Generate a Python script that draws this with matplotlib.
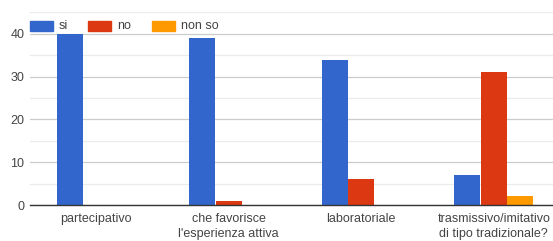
import matplotlib.pyplot as plt
import matplotlib.patches as mpatches
import numpy as np

plt.rcParams['font.family'] = ['Liberation Sans', 'DejaVu Sans']

# Data
categories = ["partecipativo", "che favorisce\nl'esperienza attiva",
              "laboratoriale", "trasmissivo/imitativo\ndi tipo tradizionale?"]
series_names = ["si", "no", "non so"]
si = [40, 39, 34, 7]
no = [0, 1, 6, 31]
non_so = [0, 0, 0, 2]

COLORS = ["#3366cc", "#dc3912", "#ff9900"]
TEXT = "#444444"

fig = plt.figure(figsize=(5.53, 2.41), dpi=100)
fig.patch.set_facecolor('white')
W, H = 553, 241
# right edge deliberately past the figure (chart is cropped in the reference)
ax = fig.add_axes([30 / W, 36 / H, 530 / W, (205 - 12.5) / H])

x = np.arange(len(categories))
width = 0.2
for i, (vals, name) in enumerate(zip([si, no, non_so], series_names)):
    ax.bar(x + (i - 1) * width, vals, width * 0.97, color=COLORS[i], zorder=3, label=name)

ax.set_xlim(-0.5, len(categories) - 0.5)
ax.set_ylim(0, 45)
ax.set_yticks([0, 10, 20, 30, 40])
ax.set_yticks([5, 15, 25, 35, 45], minor=True)
ax.grid(True, axis='y', which='major', color='#cccccc', linewidth=0.9, zorder=0)
ax.grid(True, axis='y', which='minor', color='#ebebeb', linewidth=0.9, zorder=0)
ax.tick_params(axis='y', which='both', length=0, pad=4, labelsize=9, labelcolor=TEXT)
ax.tick_params(axis='x', length=0, pad=6, labelsize=9, labelcolor=TEXT)
ax.set_xticks(x)
ax.set_xticklabels(categories, linespacing=1.3)
for s in ['top', 'right', 'left']:
    ax.spines[s].set_visible(False)
ax.spines['bottom'].set_color('#333333')
ax.spines['bottom'].set_linewidth(1.0)
ax.spines['bottom'].set_zorder(4)

# legend drawn manually along the top
leg_y = 1 - 26 / H
for i, (name, lx) in enumerate(zip(series_names, [30, 88, 152])):
    fig.patches.append(mpatches.Rectangle((lx / W, leg_y - 5 / H), 23 / W, 10 / H,
                                          transform=fig.transFigure, color=COLORS[i]))
    fig.text((lx + 29) / W, leg_y, name, ha='left', va='center', fontsize=9, color=TEXT)

plt.savefig('out.png', dpi=100, facecolor='white')
plt.close()
